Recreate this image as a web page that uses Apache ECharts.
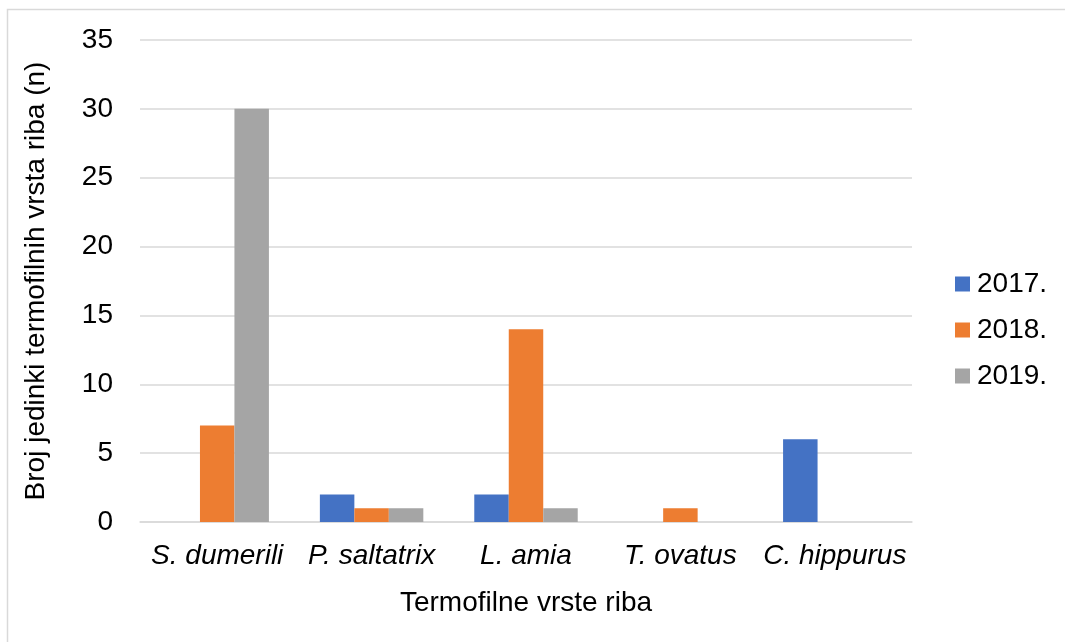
<!DOCTYPE html>
<html>
<head>
<meta charset="utf-8">
<script src="https://cdn.jsdelivr.net/npm/echarts@6/dist/echarts.min.js"></script>
<style>
  html, body { margin: 0; padding: 0; background: #fff; }
  #chart { width: 1065px; height: 642px; }
</style>
</head>
<body>
<div id="chart"></div>
<script>
  const categories = ['S. dumerili', 'P. saltatrix', 'L. amia', 'T. ovatus', 'C. hippurus']
  const years = ['2017.', '2018.', '2019.']
  const values2017 = [0, 2, 2, 0, 6]
  const values2018 = [7, 1, 14, 1, 0]
  const values2019 = [30, 1, 1, 0, 0]
  const yTicks = [0, 5, 10, 15, 20, 25, 30, 35]

  const font = '"Liberation Sans", Arial, sans-serif'
  let myChart = echarts.init(document.getElementById('chart'))
  myChart.setOption({
    color: ['#4472C4', '#ED7D31', '#A5A5A5'],
    textStyle: { fontFamily: font },
    animation: false,
    graphic: [
      {
        type: 'rect',
        shape: { x: 7.5, y: 9.5, width: 1100, height: 700 },
        style: { fill: 'none', stroke: '#D9D9D9', lineWidth: 1.5 },
        silent: true
      }
    ],
    legend: {
      orient: 'vertical',
      left: 950,
      top: 265,
      itemWidth: 15,
      itemHeight: 15,
      itemGap: 18,
      icon: 'rect',
      data: years,
      textStyle: { fontSize: 28, color: '#000', fontFamily: font, padding: [0, 0, 0, 2] }
    },
    grid: {
      left: 140,
      right: 153,
      top: 40,
      bottom: 120,
      containLabel: false
    },
    xAxis: {
      type: 'category',
      data: categories,
      name: 'Termofilne vrste riba',
      nameLocation: 'middle',
      nameGap: 67,
      nameTextStyle: { fontSize: 28, color: '#000', fontFamily: font },
      axisLine: { lineStyle: { color: '#D9D9D9', width: 1.5 } },
      axisTick: { show: false },
      axisLabel: { interval: 0, fontSize: 28, color: '#000', fontStyle: 'italic', margin: 20, fontFamily: font }
    },
    yAxis: {
      type: 'value',
      min: yTicks[0],
      max: yTicks[yTicks.length - 1],
      interval: 5,
      name: 'Broj jedinki termofilnih vrsta riba (n)',
      nameLocation: 'middle',
      nameGap: 90,
      nameRotate: 90,
      nameTextStyle: { fontSize: 28, color: '#000', fontFamily: font },
      axisLine: { show: false },
      axisTick: { show: false },
      axisLabel: { fontSize: 28, color: '#000', margin: 27, fontFamily: font },
      splitLine: { lineStyle: { color: '#D9D9D9', width: 1.5 } }
    },
    series: [
      { name: years[0], type: 'bar', data: values2017, barGap: '0%', barCategoryGap: '33%' },
      { name: years[1], type: 'bar', data: values2018, barGap: '0%', barCategoryGap: '33%' },
      { name: years[2], type: 'bar', data: values2019, barGap: '0%', barCategoryGap: '33%' }
    ]
  })
</script>
</body>
</html>
